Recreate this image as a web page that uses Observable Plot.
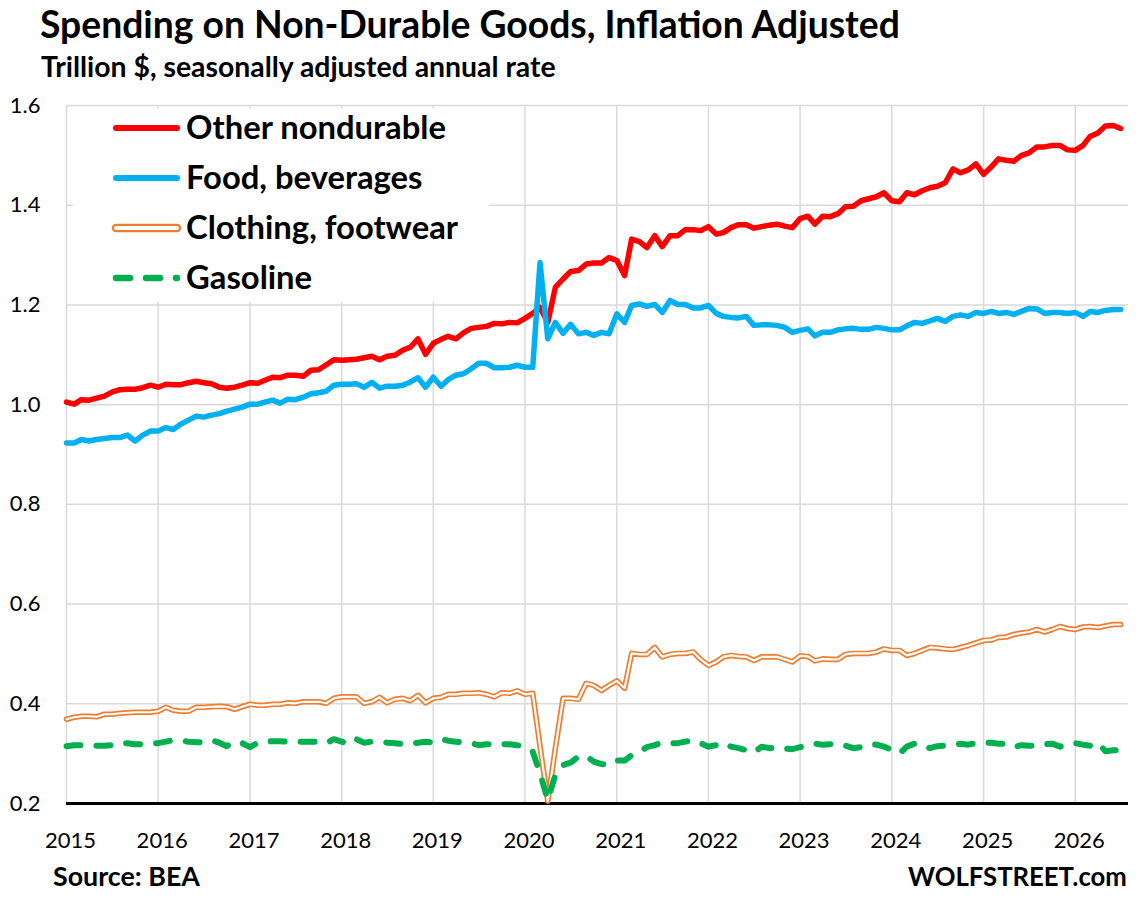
<!DOCTYPE html>
<html><head><meta charset="utf-8">
<script src="https://cdn.jsdelivr.net/npm/d3@7"></script>
<script src="https://cdn.jsdelivr.net/npm/@observablehq/plot@0.6"></script>
<style>
html,body{margin:0;padding:0;background:#fff;}
body{width:1144px;height:900px;position:relative;overflow:hidden;font-family:Lato,sans-serif;}
.t{position:absolute;white-space:nowrap;line-height:1;color:#000;font-weight:700;font-family:Lato,sans-serif;}
#chart{position:absolute;left:0;top:90px;}
#legend{position:absolute;left:73px;top:108px;}
</style></head><body>
<div id="chart"></div>
<script>
// ---------------- data ----------------
const titleText = "Spending on Non-Durable Goods, Inflation Adjusted";
const subtitleText = "Trillion $, seasonally adjusted annual rate";
const sourceText = "Source: BEA";
const brandText = "WOLFSTREET.com";
const seriesNames = ["Other nondurable", "Food, beverages", "Clothing, footwear", "Gasoline"];
const firstMonth = "2015-01";   // monthly data, Jan 2015 onward
const axisEnd = "2026-08";
const yearTicks = [2015, 2016, 2017, 2018, 2019, 2020, 2021, 2022, 2023, 2024, 2025, 2026];
const valueTicks = [0.2, 0.4, 0.6, 0.8, 1.0, 1.2, 1.4, 1.6];

const otherNondurable = [
1.005,1.001,1.010,1.009,1.013,1.017,1.025,1.030,1.031,1.031,1.034,1.039,
1.035,1.041,1.040,1.040,1.044,1.047,1.044,1.042,1.035,1.033,1.035,1.039,
1.044,1.043,1.049,1.055,1.054,1.059,1.059,1.057,1.069,1.070,1.080,1.090,
1.089,1.090,1.091,1.094,1.097,1.090,1.097,1.099,1.109,1.115,1.132,1.101,
1.123,1.131,1.137,1.132,1.144,1.153,1.155,1.157,1.163,1.162,1.165,1.164,
1.173,1.183,1.195,1.165,1.235,1.252,1.267,1.269,1.282,1.284,1.284,1.295,
1.289,1.259,1.332,1.327,1.315,1.339,1.317,1.339,1.339,1.351,1.351,1.349,
1.357,1.342,1.345,1.355,1.361,1.361,1.354,1.357,1.360,1.362,1.358,1.355,
1.373,1.378,1.362,1.378,1.377,1.383,1.397,1.398,1.409,1.413,1.417,1.425,
1.409,1.407,1.425,1.421,1.429,1.435,1.438,1.445,1.473,1.465,1.471,1.483,
1.462,1.477,1.493,1.490,1.488,1.500,1.505,1.517,1.517,1.520,1.520,1.511,
1.510,1.520,1.538,1.545,1.559,1.560,1.554];

const foodBeverages = [
0.923,0.923,0.930,0.927,0.930,0.932,0.934,0.934,0.939,0.927,0.939,0.947,
0.947,0.954,0.950,0.961,0.969,0.977,0.975,0.979,0.982,0.987,0.991,0.995,
1.001,1.001,1.005,1.009,1.003,1.011,1.010,1.015,1.022,1.024,1.027,1.039,
1.041,1.041,1.042,1.035,1.045,1.033,1.037,1.037,1.039,1.045,1.054,1.035,
1.055,1.037,1.050,1.059,1.062,1.072,1.083,1.083,1.074,1.074,1.075,1.079,
1.075,1.075,1.285,1.132,1.165,1.143,1.161,1.142,1.145,1.139,1.145,1.142,
1.182,1.165,1.199,1.202,1.197,1.201,1.185,1.209,1.201,1.201,1.194,1.194,
1.199,1.183,1.177,1.175,1.174,1.177,1.159,1.160,1.160,1.159,1.155,1.145,
1.149,1.152,1.138,1.145,1.145,1.150,1.152,1.153,1.151,1.151,1.155,1.153,
1.150,1.150,1.158,1.165,1.163,1.168,1.173,1.167,1.177,1.180,1.177,1.185,
1.183,1.187,1.183,1.185,1.181,1.187,1.193,1.192,1.183,1.185,1.185,1.183,
1.185,1.177,1.187,1.185,1.189,1.191,1.191];

const clothingFootwear = [
0.369,0.373,0.375,0.375,0.374,0.379,0.379,0.381,0.382,0.383,0.383,0.383,
0.385,0.393,0.387,0.385,0.385,0.393,0.393,0.394,0.395,0.394,0.389,0.394,
0.399,0.397,0.397,0.399,0.399,0.402,0.401,0.404,0.404,0.404,0.401,0.411,
0.414,0.414,0.414,0.401,0.404,0.413,0.402,0.409,0.411,0.406,0.417,0.402,
0.411,0.413,0.419,0.419,0.421,0.421,0.422,0.419,0.414,0.422,0.421,0.426,
0.419,0.421,0.315,0.205,0.310,0.411,0.411,0.409,0.441,0.437,0.427,0.437,
0.446,0.431,0.501,0.499,0.499,0.513,0.494,0.499,0.501,0.501,0.504,0.489,
0.477,0.484,0.494,0.497,0.495,0.494,0.487,0.494,0.494,0.494,0.489,0.484,
0.496,0.495,0.486,0.490,0.489,0.489,0.499,0.501,0.501,0.501,0.504,0.510,
0.507,0.507,0.497,0.501,0.507,0.513,0.512,0.510,0.509,0.513,0.517,0.522,
0.527,0.528,0.533,0.534,0.539,0.542,0.544,0.549,0.544,0.549,0.555,0.551,
0.549,0.554,0.555,0.553,0.556,0.559,0.559];

const gasoline = [
0.315,0.317,0.317,0.317,0.316,0.316,0.317,0.321,0.321,0.319,0.319,0.321,
0.321,0.324,0.327,0.326,0.324,0.323,0.323,0.327,0.322,0.315,0.324,0.321,
0.313,0.322,0.324,0.325,0.325,0.324,0.324,0.324,0.324,0.324,0.321,0.329,
0.324,0.319,0.329,0.322,0.324,0.324,0.322,0.321,0.319,0.319,0.322,0.324,
0.322,0.329,0.326,0.324,0.322,0.321,0.317,0.319,0.319,0.319,0.319,0.317,
0.314,0.304,0.261,0.207,0.257,0.277,0.282,0.294,0.295,0.284,0.279,0.277,
0.286,0.286,0.297,0.304,0.313,0.317,0.322,0.321,0.321,0.324,0.327,0.321,
0.314,0.317,0.322,0.314,0.311,0.307,0.302,0.314,0.311,0.312,0.310,0.309,
0.313,0.316,0.320,0.318,0.319,0.320,0.316,0.311,0.313,0.319,0.318,0.314,
0.308,0.300,0.314,0.320,0.318,0.311,0.315,0.316,0.318,0.320,0.318,0.321,
0.322,0.322,0.320,0.320,0.313,0.317,0.316,0.316,0.319,0.320,0.314,0.319,
0.321,0.318,0.316,0.322,0.305,0.307,0.307];

// ---------------- build ----------------
const parseMonth = d3.utcParse("%Y-%m");
const t0 = parseMonth(firstMonth);
const tEnd = parseMonth(axisEnd);
const yearDates = yearTicks.map(y => new Date(Date.UTC(y, 0, 1)));
const toRows = (vals, name) => vals.map((v, i) => ({date: d3.utcMonth.offset(t0, i), value: v, series: name}));
const rowsOther = toRows(otherNondurable, seriesNames[0]);
const rowsFood = toRows(foodBeverages, seriesNames[1]);
const rowsCloth = toRows(clothingFootwear, seriesNames[2]);
const rowsGas = toRows(gasoline, seriesNames[3]);

const RED = "#FF0000", BLUE = "#00B0F0", ORANGE = "#ED7D31", GREEN = "#00B050";
const lineOpts = {x: "date", y: "value", strokeLinejoin: "round", strokeLinecap: "round"};

const chart = Plot.plot({
  width: 1144,
  height: 760,
  marginLeft: 66,
  marginRight: 16,
  marginTop: 15,
  marginBottom: 47,
  style: {fontFamily: "Lato, sans-serif", fontSize: "22px", color: "#000", background: "transparent", overflow: "visible"},
  x: {type: "utc", domain: [t0, tEnd], label: null},
  y: {domain: [0.2, 1.6], label: null},
  marks: [
    Plot.gridX(yearDates, {stroke: "#d9d9d9", strokeOpacity: 1, strokeWidth: 1.5}),
    Plot.gridY(valueTicks, {stroke: "#d9d9d9", strokeOpacity: 1, strokeWidth: 1.5}),
    Plot.axisX(yearDates, {tickSize: 0, tickPadding: 29, dx: 4, tickFormat: d3.utcFormat("%Y"), fontSize: 22, fill: "#000"}),
    Plot.axisY(valueTicks, {tickSize: 0, tickPadding: 26, tickFormat: d => d.toFixed(1), fontSize: 22, fill: "#000"}),
    Plot.ruleY([0.2], {stroke: "#000", strokeWidth: 3}),
    Plot.line(rowsOther, {...lineOpts, stroke: RED, strokeWidth: 5.5}),
    Plot.line(rowsFood, {...lineOpts, stroke: BLUE, strokeWidth: 5.5}),
    Plot.line(rowsCloth, {...lineOpts, stroke: ORANGE, strokeWidth: 5.6}),
    Plot.line(rowsCloth, {...lineOpts, stroke: "#fff", strokeWidth: 2.2}),
    Plot.line(rowsGas, {...lineOpts, stroke: GREEN, strokeWidth: 6, strokeDasharray: "14 16"})
  ]
});
document.getElementById("chart").appendChild(chart);

// ---------------- legend (white box over the plot) ----------------
const legendItems = [
  {name: seriesNames[0], color: RED, kind: "solid"},
  {name: seriesNames[1], color: BLUE, kind: "solid"},
  {name: seriesNames[2], color: ORANGE, kind: "double"},
  {name: seriesNames[3], color: GREEN, kind: "dash"}
];
const lg = d3.create("svg").attr("id", "legend").attr("width", 416).attr("height", 194)
  .style("position", "absolute").style("left", "73px").style("top", "108px");
lg.append("rect").attr("width", 416).attr("height", 194).attr("fill", "#fff");
legendItems.forEach((it, k) => {
  const cy = 20 + 50 * k;
  const g = lg.append("g");
  const seg = () => g.append("line").attr("x1", 43).attr("x2", 104).attr("y1", cy).attr("y2", cy)
    .attr("stroke-linecap", "round");
  if (it.kind === "solid") seg().attr("stroke", it.color).attr("stroke-width", 6);
  if (it.kind === "double") {
    seg().attr("stroke", it.color).attr("stroke-width", 8.5);
    seg().attr("stroke", "#fff").attr("stroke-width", 4);
  }
  if (it.kind === "dash") seg().attr("stroke", it.color).attr("stroke-width", 6.5).attr("stroke-dasharray", "14 16");
  g.append("text").attr("class", "lgtext").attr("x", 113).attr("y", cy + 10.5)
    .attr("font-family", "Lato, sans-serif").attr("font-weight", 700).attr("font-size", 30)
    .attr("fill", "#000").text(it.name);
});
document.body.appendChild(lg.node());

// ---------------- titles and footer ----------------
function placeText(txt, opts) {
  const el = document.createElement("div");
  el.className = "t";
  el.style.fontSize = "100px";
  el.textContent = txt;
  const mk = document.createElement("span");
  mk.style.cssText = "display:inline-block;width:0;height:0;vertical-align:baseline;";
  el.appendChild(mk);
  document.body.appendChild(el);
  el._fit = () => {
    el.style.fontSize = "100px";
    const w = el.getBoundingClientRect().width;
    const fs = 100 * opts.width / w;
    el.style.fontSize = fs.toFixed(2) + "px";
    const b = mk.offsetTop;
    el.style.top = (opts.baseline - b) + "px";
    el.style.left = (opts.left != null ? opts.left : opts.right - opts.width) + "px";
  };
  el._fit();
  return el;
}
const texts = [
  placeText(titleText, {left: 40, width: 860, baseline: 38}),
  placeText(subtitleText, {left: 41, width: 515, baseline: 77}),
  placeText(sourceText, {left: 53, width: 147, baseline: 886}),
  placeText(brandText, {right: 1127, width: 219, baseline: 886})
];
function fitLegend() {
  const nodes = document.querySelectorAll(".lgtext");
  nodes[0].setAttribute("font-size", 30);
  const w = nodes[0].getComputedTextLength();
  const fs = 30 * 260 / w;
  nodes.forEach(n => n.setAttribute("font-size", fs.toFixed(2)));
}
fitLegend();
if (document.fonts && document.fonts.ready) document.fonts.ready.then(() => { texts.forEach(t => t._fit()); fitLegend(); });
</script>
</body></html>
